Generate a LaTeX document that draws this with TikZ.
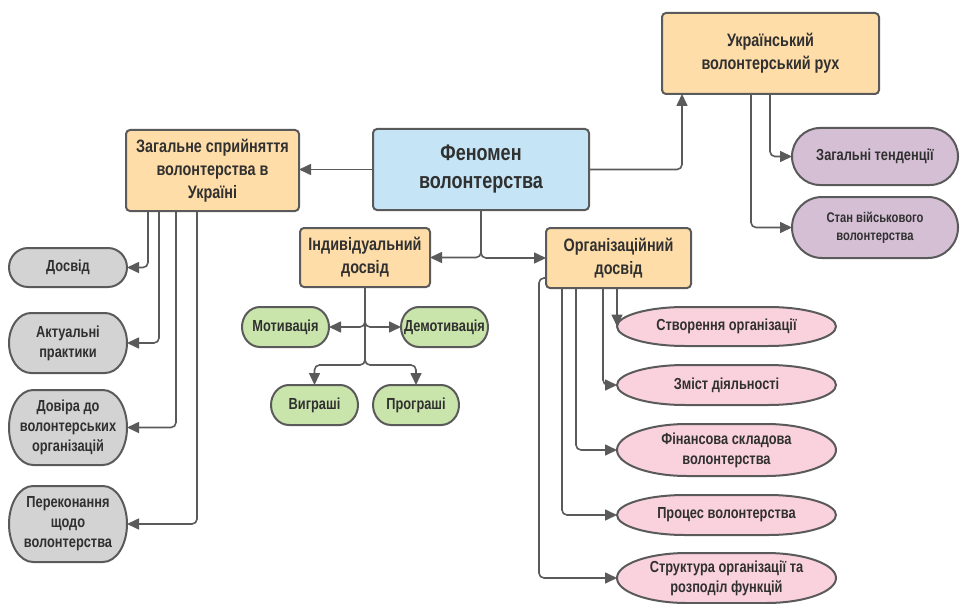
\documentclass[tikz,border=0pt]{standalone}
\usepackage{fontspec}
\setmainfont{Liberation Sans}[FakeStretch=0.8]
\usetikzlibrary{arrows.meta,calc,backgrounds}
\definecolor{cOrange}{HTML}{FFDDA8}
\definecolor{cBlue}{HTML}{C5E4F5}
\definecolor{cGray}{HTML}{D3D3D3}
\definecolor{cGreen}{HTML}{C9E5AB}
\definecolor{cPurple}{HTML}{D4BFD5}
\definecolor{cPink}{HTML}{F9D2DE}
\definecolor{cLine}{HTML}{5A5A5A}
\definecolor{cText}{HTML}{303030}
\tikzset{
  lbl/.style={text=cText,font=\bfseries,align=center,inner sep=0pt,outer sep=0pt,draw=none},
  box/.style={lbl,draw=cLine,line width=2pt,rounded corners=4pt,fill=#1},
  soft/.style={lbl},
  shp/.style={draw=cLine,line width=2pt,fill=#1},
  conn/.style={draw=cLine,line width=1.6pt,rounded corners=5pt,-{Triangle[length=12pt,width=11pt]}},
}
\newcommand\stad[3]{%
  \draw[#3] let \p1=(#1.north west), \p2=(#1.south east), \n1={(\y1-\y2)/2} in
   (\x1+#2pt,\y1) -- (\x2-#2pt,\y1)
   arc[start angle=90,end angle=-90,x radius=#2pt,y radius=\n1*1pt]
   -- (\x1+#2pt,\y2)
   arc[start angle=270,end angle=90,x radius=#2pt,y radius=\n1*1pt] -- cycle;}
\begin{document}
\begin{tikzpicture}[x=1pt,y=-1pt]
\useasboundingbox (0,0) rectangle (960,604);
% main boxes
\node[box=cBlue,minimum width=216pt,minimum height=81pt,font=\fontsize{22.5}{28}\bfseries] (fen) at (481,169.5) {Феномен\\волонтерства};
\node[box=cOrange,minimum width=173pt,minimum height=81pt,font=\fontsize{18}{23}\bfseries] (zag) at (212.5,170.5) {Загальне сприйняття\\волонтерства в\\Україні};
\node[box=cOrange,minimum width=130pt,minimum height=59pt,font=\fontsize{18}{23}\bfseries] (ind) at (365,257.5) {Індивідуальний\\досвід};
\node[box=cOrange,minimum width=145pt,minimum height=60pt,font=\fontsize{18}{23}\bfseries] (org) at (618.5,258) {Організаційний\\досвід};
\node[box=cOrange,minimum width=217pt,minimum height=81pt,font=\fontsize{18}{23}\bfseries] (ukr) at (770.5,53.5) {Український\\волонтерський рух};
% gray
\node[soft,minimum width=118pt,minimum height=39pt,font=\fontsize{16}{20}\bfseries] (dosv) at (68,267.5) {Досвід};
\node[soft,minimum width=118pt,minimum height=60pt,font=\fontsize{16}{20}\bfseries] (akt) at (68,343) {Актуальні\\практики};
\node[soft,minimum width=118pt,minimum height=75pt,font=\fontsize{16}{20}\bfseries] (dov) at (68,427.5) {Довіра до\\волонтерських\\організацій};
\node[soft,minimum width=118pt,minimum height=76pt,font=\fontsize{16}{20}\bfseries] (per) at (68,524) {Переконання\\щодо\\волонтерства};
% green
\node[soft,minimum width=87pt,minimum height=40pt,font=\fontsize{16}{20}\bfseries] (mot) at (285.5,327) {Мотивація};
\node[soft,minimum width=87pt,minimum height=40pt,font=\fontsize{16}{20}\bfseries] (dem) at (444.5,327) {Демотивація};
\node[soft,minimum width=87pt,minimum height=40pt,font=\fontsize{16}{20}\bfseries] (vyg) at (314.5,405) {Виграші};
\node[soft,minimum width=86pt,minimum height=40pt,font=\fontsize{16}{20}\bfseries] (prog) at (416,405) {Програші};
% purple
\node[soft,minimum width=166pt,minimum height=57pt,font=\fontsize{16}{20}\bfseries] (zt) at (875,156.5) {Загальні тенденції};
\node[soft,minimum width=166pt,minimum height=61pt,font=\fontsize{14}{18}\bfseries] (stan) at (875,227.5) {Стан військового\\волонтерства};
% pink
\node[soft,minimum width=219pt,minimum height=39pt,font=\fontsize{16}{20}\bfseries] (stv) at (726.5,326.5) {Створення організації};
\node[soft,minimum width=219pt,minimum height=40pt,font=\fontsize{16}{20}\bfseries] (zm) at (726.5,385) {Зміст діяльності};
\node[soft,minimum width=219pt,minimum height=52pt,font=\fontsize{16}{20}\bfseries] (fin) at (726.5,450) {Фінансова складова\\волонтерства};
\node[soft,minimum width=219pt,minimum height=40pt,font=\fontsize{16}{20}\bfseries] (proc) at (726.5,515) {Процес волонтерства};
\node[soft,minimum width=219pt,minimum height=50pt,font=\fontsize{16}{20}\bfseries] (str) at (726.5,578) {Структура організації та\\розподіл функцій};
\begin{scope}[on background layer]
\stad{dosv}{19}{shp=cGray}
\stad{akt}{22}{shp=cGray}
\stad{dov}{24}{shp=cGray}
\stad{per}{24}{shp=cGray}
\stad{mot}{18}{shp=cGreen}
\stad{dem}{18}{shp=cGreen}
\stad{vyg}{18}{shp=cGreen}
\stad{prog}{18}{shp=cGreen}
\stad{zt}{28}{shp=cPurple}
\stad{stan}{30}{shp=cPurple}
\stad{stv}{68}{shp=cPink}
\stad{zm}{68}{shp=cPink}
\stad{fin}{70}{shp=cPink}
\stad{proc}{68}{shp=cPink}
\stad{str}{70}{shp=cPink}
\end{scope}
% connectors
\draw[conn] (fen.west) -- (fen.west -| zag.east);
\draw[conn] (fen.east) -| ([xshift=20pt]ukr.south west);
\draw[conn] (fen.south) |- (ind.east);
\draw[conn] (fen.south) |- (org.west);
\draw[conn] ([xshift=108pt]ukr.south west) |- (zt.west);
\draw[conn] ([xshift=89pt]ukr.south west) |- (stan.west);
\draw[conn] ([xshift=22pt]zag.south west) |- (dosv.east);
\draw[conn] ([xshift=33pt]zag.south west) |- (akt.east);
\draw[conn] ([xshift=50pt]zag.south west) |- (dov.east);
\draw[conn] ([xshift=71pt]zag.south west) |- (per.east);
\draw[conn] (ind.south) |- (mot.east);
\draw[conn] (ind.south) |- (dem.west);
\coordinate (indj) at (365,365);
\draw[conn] (ind.south) -- (indj) -| (vyg.north);
\draw[conn] (ind.south) -- (indj) -| (prog.north);
\draw[conn] (stv.west |- org.south) -- (stv.west);
\draw[conn] ([xshift=57pt]org.south west) |- (zm.west);
\draw[conn] ([xshift=30pt]org.south west) |- (fin.west);
\draw[conn] ([xshift=16pt]org.south west) |- (proc.west);
\coordinate (orgl) at (539,278);
\draw[conn] (org.west |- orgl) -- (orgl) |- (str.west);
\end{tikzpicture}
\end{document}
